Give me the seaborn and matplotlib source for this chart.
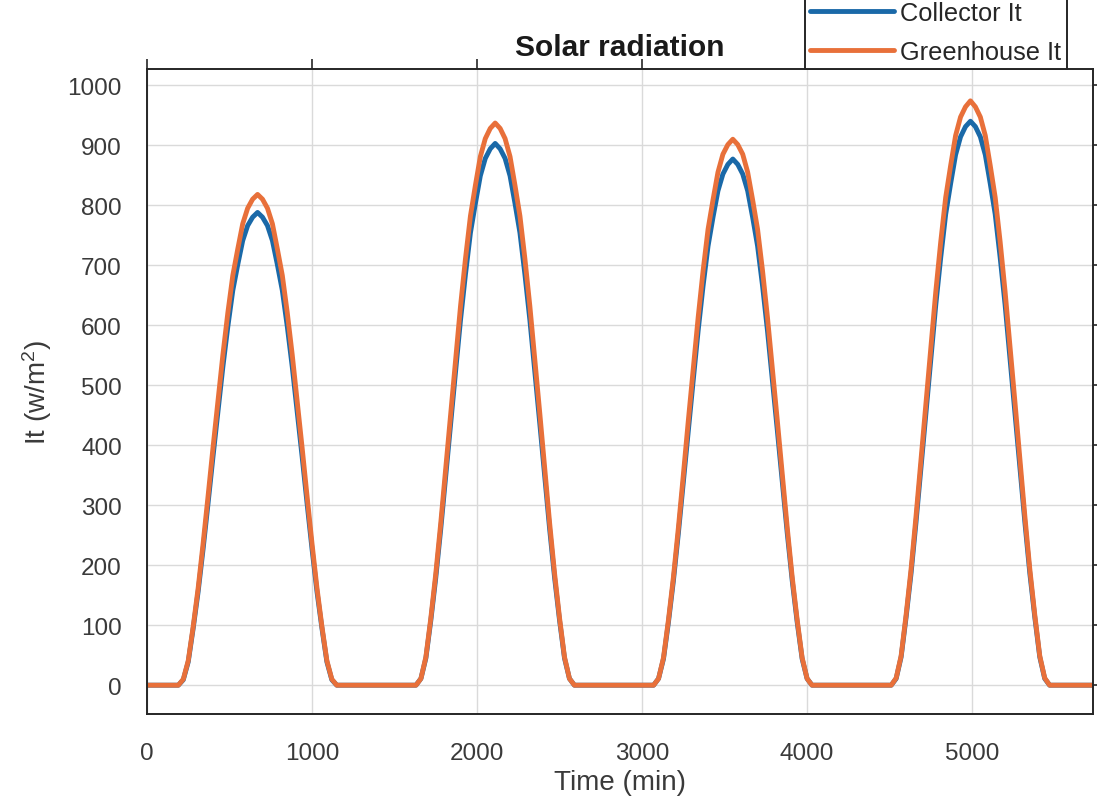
import numpy as np
import pandas as pd
import matplotlib
matplotlib.use("Agg")
import matplotlib.pyplot as plt
import seaborn as sns

# Sampling: 30-minute steps around each day's solar noon
peak_times = [670, 2110, 3550, 4990]          # minutes
sample_offsets = list(range(-480, 481, 30))  # minutes relative to noon
t_end = 5733

# Total incident radiation It (W/m^2), one list per day
collector_it = [
    [0, 9, 39, 95, 156, 227, 303, 381, 456, 531, 598, 658, 701, 741, 766, 780, 788,
     780, 766, 741, 701, 658, 598, 531, 456, 381, 303, 227, 156, 95, 39, 9, 0],
    [0, 11, 45, 108, 179, 260, 348, 437, 523, 609, 685, 754, 803, 849, 878, 894, 903,
     894, 878, 849, 803, 754, 685, 609, 523, 437, 348, 260, 179, 108, 45, 11, 0],
    [0, 11, 44, 105, 174, 253, 338, 424, 508, 591, 666, 732, 780, 824, 852, 868, 877,
     868, 852, 824, 780, 732, 666, 591, 508, 424, 338, 253, 174, 105, 44, 11, 0],
    [0, 11, 47, 113, 186, 271, 362, 455, 544, 634, 713, 785, 836, 884, 914, 931, 940,
     931, 914, 884, 836, 785, 713, 634, 544, 455, 362, 271, 186, 113, 47, 11, 0],
]
greenhouse_it = [
    [0, 10, 41, 98, 162, 236, 315, 396, 474, 551, 621, 683, 727, 769, 795, 810, 818,
     810, 795, 769, 727, 683, 621, 551, 474, 396, 315, 236, 162, 98, 41, 10, 0],
    [0, 11, 47, 112, 186, 270, 361, 454, 543, 632, 711, 782, 833, 881, 911, 928, 937,
     928, 911, 881, 833, 782, 711, 632, 543, 454, 361, 270, 186, 112, 47, 11, 0],
    [0, 11, 46, 109, 180, 262, 350, 440, 527, 613, 691, 760, 809, 855, 885, 901, 910,
     901, 885, 855, 809, 760, 691, 613, 527, 440, 350, 262, 180, 109, 46, 11, 0],
    [0, 12, 49, 117, 193, 281, 375, 471, 564, 656, 739, 813, 866, 916, 947, 964, 974,
     964, 947, 916, 866, 813, 739, 656, 564, 471, 375, 281, 193, 117, 49, 12, 0],
]

series_names = ["Collector It", "Greenhouse It"]
colors = ["#1A69A8", "#E8703A"]


def build(days, name):
    t = [0]
    v = [0]
    for peak, vals in zip(peak_times, days):
        t += [peak + o for o in sample_offsets]
        v += vals
    t.append(t_end)
    v.append(0)
    return pd.DataFrame({"Time": t, "It": v, "series": name})


df = pd.concat([build(collector_it, series_names[0]),
                build(greenhouse_it, series_names[1])], ignore_index=True)

sns.set_theme(style="white")
plt.rcParams["font.family"] = ["Liberation Sans", "DejaVu Sans"]
plt.rcParams["mathtext.fontset"] = "custom"
plt.rcParams["mathtext.rm"] = "Liberation Sans"
plt.rcParams["mathtext.it"] = "Liberation Sans"

fig = plt.figure(figsize=(10.97, 8.03), dpi=100)
ax = fig.add_axes([0.1340, 0.1096, 0.8624, 0.8032])

sns.lineplot(data=df, x="Time", y="It", hue="series", hue_order=series_names,
             palette=colors, linewidth=3.5, ax=ax, legend=False,
             estimator=None, sort=False)

ax.set_xlim(0, t_end)
ax.set_ylim(-48, 1027)
ax.set_xticks(np.arange(0, 5001, 1000))
ax.set_yticks(np.arange(0, 1001, 100))

ax.grid(True, color="#DADADA", linewidth=1.0)
ax.set_axisbelow(True)
for s in ax.spines.values():
    s.set_color("#262626")
    s.set_linewidth(1.4)

ax.tick_params(axis="both", which="both", direction="out", length=7, width=1.2,
               color="#262626", labelsize=17.5, labelcolor="#3A3A3A",
               top=True, right=True)
ax.tick_params(axis="x", pad=13)
ax.tick_params(axis="y", pad=11)

ax.set_xlabel("Time (min)", fontsize=20, color="#3A3A3A", labelpad=4)
ax.set_ylabel("It (w/m$^2$)", fontsize=20, color="#3A3A3A", labelpad=10)
ax.set_title("Solar radiation", fontsize=21.5, fontweight="bold", color="#1A1A1A", pad=10)

handles = [plt.Line2D([], [], color=c, linewidth=3.5) for c in colors]
leg = fig.legend(handles, series_names, loc="lower left",
                 bbox_to_anchor=(805 / 1097, 1 - 70 / 803),
                 bbox_transform=fig.transFigure,
                 fontsize=18.3, frameon=True, fancybox=False, framealpha=1,
                 edgecolor="#262626", handlelength=3.3, handletextpad=0.25,
                 borderpad=0.2, labelspacing=0.6, borderaxespad=0)
leg.get_frame().set_linewidth(1.4)
for txt in leg.get_texts():
    txt.set_color("#262626")

fig.savefig("out.png", dpi=100)
